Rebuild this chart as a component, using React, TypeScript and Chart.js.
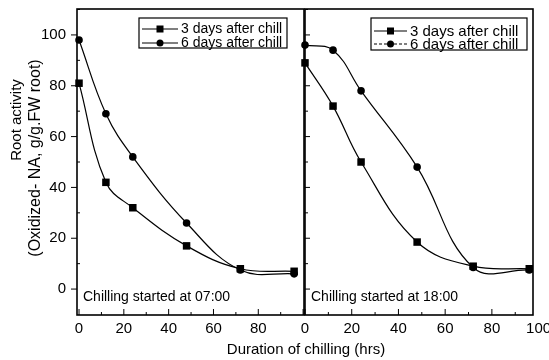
import { useEffect, useRef } from "react";
import { Chart, registerables } from "chart.js";

Chart.register(...registerables);

const hours = [0, 12, 24, 48, 72, 96];
const morning3Days = [81, 42, 32, 17, 8, 7];
const morning6Days = [98, 69, 52, 26, 7.5, 6];
const evening3Days = [89, 72, 50, 18.5, 9, 8];
const evening6Days = [96, 94, 78, 48, 8.5, 7.5];
const seriesLabels = ["3 days after chill", "6 days after chill"];
const panelNotes = ["Chilling started at 07:00", "Chilling started at 18:00"];
const yTickValues = [0, 20, 40, 60, 80, 100];
const leftXTickValues = [0, 20, 40, 60, 80];
const rightXTickValues = [0, 20, 40, 60, 80, 100];
const yTitleLines = ["Root activity", "(Oxidized- NA, g/g.FW root)"];
const xTitle = "Duration of chilling (hrs)";

const FONT = "'Liberation Sans', Arial, Helvetica, sans-serif";

type LegendBox = { x: number; y: number; w: number; h: number; row1: number; row2: number; textX: number; font: number; dash6: number[] };
type PanelCfg = {
  s3: number[];
  s6: number[];
  note: string;
  xMin: number;
  xMax: number;
  xTicks: number[];
  showY: boolean;
  width: number;
  padLeft: number;
  padRight: number;
  legend: LegendBox;
};

function line(ctx: CanvasRenderingContext2D, x1: number, y1: number, x2: number, y2: number) {
  ctx.beginPath();
  ctx.moveTo(x1, y1);
  ctx.lineTo(x2, y2);
  ctx.stroke();
}

function makePlugin(cfg: PanelCfg) {
  return {
    id: "frame",
    afterDraw(chart: any) {
      const { ctx, chartArea: a, scales } = chart;
      const xs = scales.x;
      const ys = scales.y;
      ctx.save();
      ctx.strokeStyle = "#000";
      ctx.lineWidth = 1.6;
      ctx.strokeRect(a.left, a.top, a.right - a.left, a.bottom - a.top);
      ctx.lineWidth = 1;
      for (let v = 0; v <= cfg.xMax; v += 10) {
        const px = xs.getPixelForValue(v);
        const len = v % 20 === 0 ? 6 : 3;
        line(ctx, px, a.bottom, px, a.bottom - len);
      }
      for (let v = 0; v <= 110; v += 10) {
        const py = ys.getPixelForValue(v);
        if (py < a.top) continue;
        const major = v % 20 === 0;
        if (cfg.showY) {
          if (major) line(ctx, a.left - 6, py, a.left, py);
          else line(ctx, a.left, py, a.left + 3, py);
        } else {
          line(ctx, a.left, py, a.left + (major ? 5 : 3), py);
        }
      }
      ctx.fillStyle = "#000";
      ctx.textBaseline = "middle";
      ctx.textAlign = "left";
      ctx.font = `14px ${FONT}`;
      ctx.fillText(cfg.note, a.left + 6, a.bottom - 18);

      if (cfg.showY) {
        const titlePos = [
          { x: 17, y: 120, size: 15 },
          { x: 36, y: 158, size: 16 },
        ];
        yTitleLines.forEach((t, i) => {
          ctx.save();
          ctx.translate(titlePos[i].x, titlePos[i].y);
          ctx.rotate(-Math.PI / 2);
          ctx.textAlign = "center";
          ctx.font = `${titlePos[i].size}px ${FONT}`;
          ctx.fillText(t, 0, 0);
          ctx.restore();
        });
      }

      const L = cfg.legend;
      ctx.fillStyle = "#fff";
      ctx.fillRect(L.x, L.y, L.w, L.h);
      ctx.lineWidth = 1.2;
      ctx.strokeRect(L.x, L.y, L.w, L.h);
      ctx.fillStyle = "#000";
      ctx.font = `${L.font}px ${FONT}`;
      const rows = [L.row1, L.row2];
      seriesLabels.forEach((lab, i) => {
        const ry = L.y + rows[i];
        const x1 = L.x + 3;
        const x2 = L.textX - 3;
        ctx.lineWidth = 1.2;
        ctx.setLineDash(i === 1 ? L.dash6 : []);
        line(ctx, x1, ry, x2, ry);
        ctx.setLineDash([]);
        const cx = (x1 + x2) / 2;
        if (i === 0) ctx.fillRect(cx - 3.5, ry - 3.5, 7, 7);
        else {
          ctx.beginPath();
          ctx.arc(cx, ry, 3.5, 0, Math.PI * 2);
          ctx.fill();
        }
        ctx.fillText(lab, L.textX, ry + 0.5);
      });
      ctx.restore();
    },
  };
}

function makeChart(canvas: HTMLCanvasElement, cfg: PanelCfg) {
  const ds = (label: string, values: number[], style: string) => ({
    label,
    data: hours.map((h, i) => ({ x: h, y: values[i] })),
    borderColor: "#000",
    backgroundColor: "#000",
    borderWidth: 1.2,
    pointStyle: style,
    pointRadius: style === "rect" ? 5.3 : 3.8,
    pointBorderWidth: 0,
    tension: 0.4,
    cubicInterpolationMode: "default",
    clip: false,
    fill: false,
  });
  return new Chart(canvas, {
    type: "line",
    data: {
      datasets: [ds(seriesLabels[0], cfg.s3, "rect"), ds(seriesLabels[1], cfg.s6, "circle")],
    },
    plugins: [makePlugin(cfg)],
    options: {
      responsive: false,
      animation: false,
      events: [],
      layout: { autoPadding: false, padding: { top: 9, left: cfg.padLeft, right: cfg.padRight, bottom: 0 } },
      plugins: { legend: { display: false }, tooltip: { enabled: false } },
      scales: {
        x: {
          type: "linear",
          min: cfg.xMin,
          max: cfg.xMax,
          afterBuildTicks: (s: any) => {
            s.ticks = cfg.xTicks.map((v) => ({ value: v }));
          },
          afterFit: (s: any) => {
            s.height = 45;
            s.paddingLeft = 0;
            s.paddingRight = 0;
          },
          grid: { display: false, drawTicks: false },
          border: { display: false },
          ticks: {
            autoSkip: false,
            maxRotation: 0,
            padding: 5,
            color: "#000",
            font: { size: 15, family: FONT },
            callback: (v: any) => String(v),
          },
        },
        y: {
          type: "linear",
          display: cfg.showY,
          min: -10.2,
          max: 110.2,
          afterBuildTicks: (s: any) => {
            s.ticks = yTickValues.map((v) => ({ value: v }));
          },
          afterFit: (s: any) => {
            s.width = cfg.showY ? 77 : 0;
            s.paddingTop = 0;
            s.paddingBottom = 0;
          },
          grid: { display: false, drawTicks: false },
          border: { display: false },
          ticks: {
            autoSkip: false,
            padding: 11,
            color: "#000",
            font: { size: 15, family: FONT },
            callback: (v: any) => String(v),
          },
        },
      },
    } as any,
  } as any);
}

const leftCfg: PanelCfg = {
  s3: morning3Days,
  s6: morning6Days,
  note: panelNotes[0],
  xMin: -0.9,
  xMax: 100.4,
  xTicks: leftXTickValues,
  showY: true,
  width: 310,
  padLeft: 0,
  padRight: 6,
  legend: { x: 139, y: 18, w: 148, h: 30, row1: 11, row2: 25, textX: 181, font: 14, dash6: [] },
};

const rightCfg: PanelCfg = {
  s3: evening3Days,
  s6: evening6Days,
  note: panelNotes[1],
  xMin: 0,
  xMax: 97.6,
  xTicks: rightXTickValues,
  showY: false,
  width: 249,
  padLeft: 5,
  padRight: 16,
  legend: { x: 71, y: 18, w: 156, h: 32, row1: 13, row2: 26, textX: 110, font: 15, dash6: [3, 2] },
};

export default function App() {
  const leftRef = useRef<HTMLCanvasElement>(null);
  const rightRef = useRef<HTMLCanvasElement>(null);
  useEffect(() => {
    const c1 = makeChart(leftRef.current!, leftCfg);
    const c2 = makeChart(rightRef.current!, rightCfg);
    return () => {
      c1.destroy();
      c2.destroy();
    };
  }, []);
  return (
    <div style={{ position: "absolute", left: 0, top: 0, width: 549, height: 360, background: "#fff", overflow: "hidden" }}>
      <canvas ref={leftRef} width={310} height={360} style={{ position: "absolute", left: 0, top: 0 }} />
      <canvas ref={rightRef} width={249} height={360} style={{ position: "absolute", left: 300, top: 0 }} />
      <div
        style={{
          position: "absolute",
          left: 0,
          top: 340,
          width: 612,
          textAlign: "center",
          font: `15px ${FONT}`,
          color: "#000",
          lineHeight: "17px",
        }}
      >
        {xTitle}
      </div>
    </div>
  );
}
